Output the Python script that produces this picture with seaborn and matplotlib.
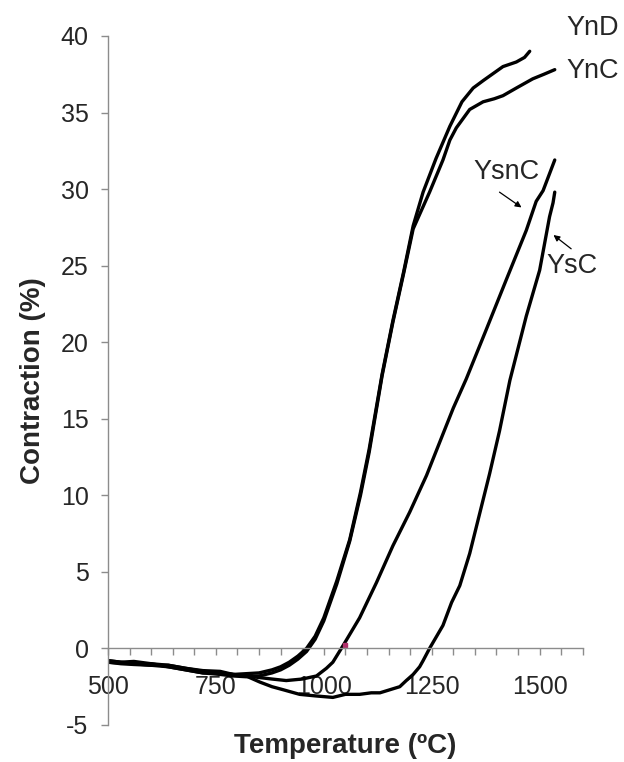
import numpy as np
import pandas as pd
import matplotlib
matplotlib.use("Agg")
import matplotlib.pyplot as plt
import seaborn as sns

# ---------------- data ----------------
ynd_x = [500, 530, 560, 600, 640, 680, 720, 760, 790, 820, 850, 880, 900, 920, 940, 960,
         980, 1000, 1030, 1060, 1085, 1105, 1135, 1160, 1185, 1207, 1230, 1260, 1292, 1320,
         1346, 1370, 1395, 1415, 1446, 1465, 1477]
ynd_y = [-0.8, -0.9, -0.85, -1.0, -1.1, -1.3, -1.45, -1.5, -1.7, -1.65, -1.6, -1.4, -1.2, -0.9,
         -0.5, 0.0, 0.8, 2.0, 4.4, 7.1, 10.2, 13.0, 17.9, 21.4, 24.6, 27.6, 29.8, 32.0, 34.1, 35.7,
         36.6, 37.1, 37.6, 38.0, 38.3, 38.6, 39.0]

ync_x = [500, 530, 560, 600, 640, 680, 720, 760, 790, 820, 850, 880, 900, 920, 940, 960,
         980, 1000, 1030, 1060, 1085, 1105, 1135, 1160, 1185, 1207, 1245, 1276, 1292, 1307,
         1338, 1369, 1395, 1415, 1446, 1484, 1510, 1535]
ync_y = [-0.9, -1.0, -1.05, -1.1, -1.2, -1.4, -1.6, -1.7, -1.8, -1.85, -1.8, -1.6, -1.4, -1.1,
         -0.7, -0.2, 0.6, 1.8, 4.2, 7.0, 10.0, 12.8, 17.8, 21.3, 24.5, 27.4, 29.8, 31.9, 33.2, 34.0,
         35.2, 35.7, 35.9, 36.1, 36.6, 37.2, 37.5, 37.8]

ysnc_x = [500, 530, 560, 600, 640, 680, 720, 760, 790, 820, 850, 880, 913, 950, 983, 1006,
          1021, 1045, 1083, 1122, 1160, 1199, 1238, 1276, 1300, 1330, 1376, 1423, 1469, 1492,
          1508, 1535]
ysnc_y = [-0.8, -0.9, -1.0, -1.0, -1.2, -1.4, -1.6, -1.6, -1.7, -1.8, -1.9, -2.0, -2.1, -2.0,
          -1.8, -1.3, -0.9, 0.2, 2.0, 4.3, 6.7, 8.9, 11.3, 14.0, 15.7, 17.6, 20.8, 24.1, 27.3,
          29.2, 29.9, 31.9]

ysc_x = [500, 530, 560, 600, 640, 680, 720, 760, 790, 820, 852, 880, 906, 944, 980, 1021,
         1050, 1083, 1110, 1130, 1153, 1176, 1191, 1207, 1222, 1230, 1245, 1276, 1296, 1315,
         1338, 1361, 1384, 1407, 1431, 1469, 1500, 1523, 1531, 1535]
ysc_y = [-0.9, -0.95, -1.0, -1.1, -1.1, -1.3, -1.5, -1.6, -1.7, -1.8, -2.2, -2.5, -2.7, -3.0,
         -3.1, -3.2, -3.0, -3.0, -2.9, -2.9, -2.7, -2.5, -2.1, -1.7, -1.2, -0.8, 0.0, 1.5, 3.0,
         4.1, 6.2, 8.8, 11.4, 14.2, 17.5, 21.7, 24.7, 28.2, 29.1, 29.8]

series_names = ["YnD", "YnC", "YsnC", "YsC"]
x_ticks = [500, 750, 1000, 1250, 1500]
y_ticks = [-5, 0, 5, 10, 15, 20, 25, 30, 35, 40]
mark_x = [1050]
mark_y = [0.25]

frames = []
for name, xs, ys in zip(series_names, [ynd_x, ync_x, ysnc_x, ysc_x],
                        [ynd_y, ync_y, ysnc_y, ysc_y]):
    frames.append(pd.DataFrame({"Temperature": xs, "Contraction": ys, "Sample": name}))
df = pd.concat(frames, ignore_index=True)

# ---------------- figure ----------------
sns.set_style("white")
plt.rcParams["font.family"] = ["Liberation Sans", "DejaVu Sans"]
plt.rcParams["axes.unicode_minus"] = False

fig = plt.figure(figsize=(6.24, 7.62), dpi=100)
ax = fig.add_axes([0.173, 0.0486, 0.761, 0.9042])

sns.lineplot(data=df, x="Temperature", y="Contraction", hue="Sample", units="Sample",
             estimator=None, sort=False, palette={n: "black" for n in series_names},
             linewidth=2.4, legend=False, ax=ax)
ax.plot(mark_x, mark_y, marker="s", markersize=3, color="#b0306a", linestyle="none")

ax.set_xlim(500, 1600)
ax.set_ylim(-5, 40)
ax.set_xticks(x_ticks)
ax.set_xticks(np.arange(500, 1601, 50), minor=True)
ax.set_yticks(y_ticks)

axis_grey = "#8c8c8c"
for s in ["top", "right"]:
    ax.spines[s].set_visible(False)
ax.spines["bottom"].set_position(("data", 0))
ax.spines["left"].set_color(axis_grey)
ax.spines["bottom"].set_color(axis_grey)
ax.spines["left"].set_linewidth(1.0)
ax.spines["bottom"].set_linewidth(1.0)

ax.tick_params(axis="x", which="both", direction="out", length=5, width=1.0,
               color=axis_grey, labelsize=18, pad=14)
ax.tick_params(axis="x", which="minor", labelbottom=False)
ax.tick_params(axis="y", direction="out", length=5, width=1.0, color=axis_grey,
               labelsize=18, pad=9)
ax.tick_params(bottom=True, left=True, which="both")

ax.set_xlabel("Temperature (ºC)", fontsize=20, fontweight="bold")
ax.set_ylabel("Contraction (%)", fontsize=20, fontweight="bold")
ax.xaxis.set_label_coords(0.5, -0.031)
ax.xaxis.label.set_va("center")
ax.yaxis.set_label_coords(-0.158, 0.5)
ax.yaxis.label.set_va("center")

ax.text(1623, 40.5, "YnD", fontsize=19.5, ha="center", va="center", clip_on=False)
ax.text(1623, 37.7, "YnC", fontsize=19.5, ha="center", va="center", clip_on=False)
ax.text(1424, 31.1, "YsnC", fontsize=19.5, ha="center", va="center", clip_on=False)
ax.text(1574, 25.0, "YsC", fontsize=19.5, ha="center", va="center", clip_on=False)
arrow = dict(arrowstyle="-|>", color="black", lw=0.9, mutation_scale=9, shrinkA=0, shrinkB=0)
ax.annotate("", xy=(1458, 28.8), xytext=(1407, 29.8), arrowprops=arrow)
ax.annotate("", xy=(1532, 27.0), xytext=(1573, 26.1), arrowprops=arrow)

fig.savefig("out.png", dpi=100)
